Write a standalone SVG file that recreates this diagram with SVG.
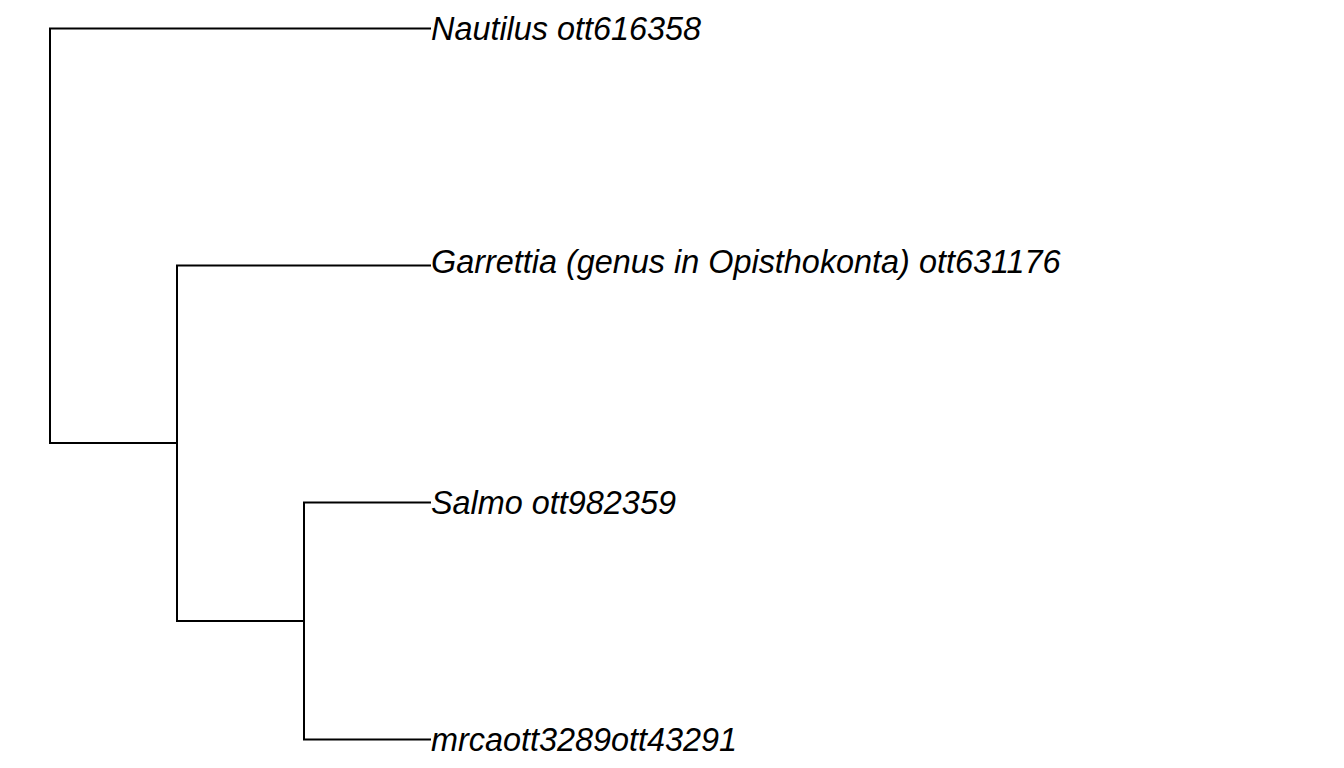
<svg xmlns="http://www.w3.org/2000/svg" width="1344" height="768" viewBox="0 0 1344 768">
<style>
.edge{fill:none;stroke:#000;stroke-width:2;stroke-linecap:butt;stroke-linejoin:miter}
.lbl{font-family:"Liberation Sans",Arial,sans-serif;font-style:italic;font-size:32.4px;fill:#000}
</style>
<rect width="1344" height="768" fill="#fff"/>
<g id="connectors">
<path class="edge" d="M431,28.5 H50 V443 H177"/>
<path class="edge" d="M431,265.5 H177 V621 H304"/>
<path class="edge" d="M431,502.5 H304 V739.5 H431"/>
</g>
<g id="n1"><text class="lbl" x="431" y="40">Nautilus ott616358</text></g>
<g id="n2"><text class="lbl" x="431" y="273">Garrettia (genus in Opisthokonta) ott631176</text></g>
<g id="n3"><text class="lbl" x="431" y="514">Salmo ott982359</text></g>
<g id="n4"><text class="lbl" x="431" y="751">mrcaott3289ott43291</text></g>
</svg>
